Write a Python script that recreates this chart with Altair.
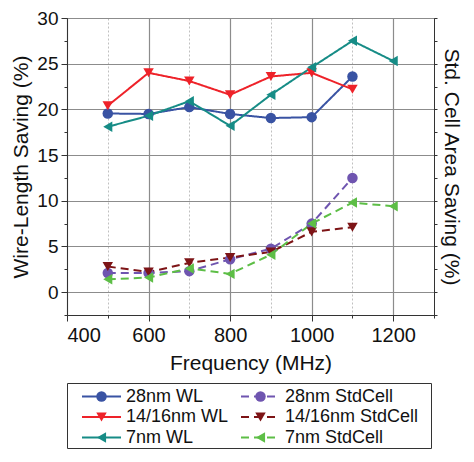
import altair as alt
import pandas as pd

# ---- data ----
freq = [500, 600, 700, 800, 900, 1000, 1100, 1200]
wl_28 = [19.55, 19.5, 20.25, 19.5, 19.05, 19.15, 23.6]
wl_16 = [20.4, 24.0, 23.1, 21.6, 23.6, 24.0, 22.2]
wl_7 = [18.1, 19.3, 20.9, 18.2, 21.6, 24.6, 27.5, 25.3]
sc_28 = [2.1, 2.1, 2.3, 3.6, 4.75, 7.5, 12.5]
sc_16 = [2.8, 2.2, 3.2, 3.8, 4.4, 6.6, 7.1]
sc_7 = [1.4, 1.6, 2.6, 2.0, 4.1, 7.5, 9.8, 9.4]

names = ["28nm WL", "14/16nm WL", "7nm WL",
         "28nm StdCell", "14/16nm StdCell", "7nm StdCell"]
colors = ["#3953A3", "#EE2229", "#168C86", "#6F55B0", "#7D1416", "#5DBE46"]
shapes = ["circle", "triangle-down", "triangle-left",
          "circle", "triangle-down", "triangle-left"]
x_ticks = list(range(400, 1301, 100))
y_ticks = [-2.5 + 2.5 * i for i in range(14)]

series = [wl_28, wl_16, wl_7, sc_28, sc_16, sc_7]
rows = []
for name, vals in zip(names, series):
    for f, v in zip(freq, vals):
        rows.append({"freq": f, "value": v, "series": name,
                     "kind": "StdCell" if "StdCell" in name else "WL"})
df = pd.DataFrame(rows)
df_wl = df[df.kind == "WL"]
df_sc = df[df.kind == "StdCell"]

FONT = "Liberation Sans"
color_scale = alt.Scale(domain=names, range=colors)
shape_scale = alt.Scale(domain=names, range=shapes)
dash_scale = alt.Scale(domain=["WL", "StdCell"], range=[[1, 0], [8, 5]])

x_enc = alt.X(
    "freq:Q",
    scale=alt.Scale(domain=[400, 1300], nice=False, zero=False),
    axis=alt.Axis(
        values=x_ticks,
        format="d",
        labelExpr="datum.value % 200 == 0 && datum.value <= 1200 ? datum.label : ''",
        title="Frequency (MHz)",
        labelFontSize=20,
        grid=True,
        gridDash={"condition": {"test": "datum.value % 200 == 0", "value": [1, 0]}, "value": [2, 2]},
        gridColor={"condition": {"test": "datum.value % 200 == 0", "value": "#8c8c8c"}, "value": "#b0b0b0"},
        gridWidth={"condition": {"test": "datum.value % 200 == 0", "value": 1.2}, "value": 0.8},
        tickSize={"condition": {"test": "datum.value % 200 == 0", "value": 6}, "value": 3},
        labelPadding=4,
        titlePadding=7,
    ),
)

y_scale = alt.Scale(domain=[-2.5, 30], nice=False, zero=False)
left_axis = alt.Axis(
    values=y_ticks,
    format=".0f",
    labelExpr="datum.value % 5 == 0 ? datum.label : ''",
    title="Wire-Length Saving (%)",
    labelFontSize=19,
    grid=True,
    gridColor="#8c8c8c",
    gridWidth=1.2,
    gridOpacity={"condition": {"test": "datum.value % 5 == 0", "value": 1}, "value": 0},
    tickSize={"condition": {"test": "datum.value % 5 == 0", "value": 6}, "value": 3},
    labelPadding=3,
    titlePadding=5,
)
right_axis = alt.Axis(
    orient="right",
    values=y_ticks,
    labels=False,
    grid=False,
    title="Std. Cell Area Saving (%)",
    tickSize=3,
    titlePadding=3,
)

def lines(data, axis):
    base = alt.Chart(data)
    ln = base.mark_line(strokeWidth=2).encode(
        x=x_enc,
        y=alt.Y("value:Q", scale=y_scale, axis=axis),
        color=alt.Color("series:N", scale=color_scale, legend=None),
        strokeDash=alt.StrokeDash("kind:N", scale=dash_scale, legend=None),
        detail="series:N",
    )
    pt = base.mark_point(filled=True, opacity=1, size=110).encode(
        x=x_enc,
        y=alt.Y("value:Q", scale=y_scale, axis=axis),
        color=alt.Color("series:N", scale=color_scale, legend=None),
        shape=alt.Shape("series:N", scale=shape_scale, legend=None),
    )
    return alt.layer(ln, pt)

main = alt.layer(lines(df_wl, left_axis), lines(df_sc, right_axis)).resolve_scale(
    y="independent"
).properties(width=367, height=297)

# ---- legend panel built from the series lists ----
LW, LH = 364, 65
leg_rows = []
for i, name in enumerate(names):
    col, row = i // 3, i % 3
    x0 = 15 + col * 159
    x1 = x0 + 39
    leg_rows.append({
        "series": name, "kind": "StdCell" if "StdCell" in name else "WL",
        "x0": x0, "x1": x1, "xm": (x0 + x1) / 2, "xt": x1 + 5,
        "y": 13.5 + row * 20.5,
    })
leg = pd.DataFrame(leg_rows)
lx = alt.Scale(domain=[0, LW])
ly = alt.Scale(domain=[0, LH], reverse=True)
lbase = alt.Chart(leg)
leg_line = lbase.mark_rule(strokeWidth=2).encode(
    x=alt.X("x0:Q", scale=lx, axis=None), x2="x1:Q",
    y=alt.Y("y:Q", scale=ly, axis=None),
    color=alt.Color("series:N", scale=color_scale, legend=None),
    strokeDash=alt.StrokeDash("kind:N", scale=dash_scale, legend=None),
)
leg_pt = lbase.mark_point(filled=True, opacity=1, size=110).encode(
    x=alt.X("xm:Q", scale=lx, axis=None),
    y=alt.Y("y:Q", scale=ly, axis=None),
    color=alt.Color("series:N", scale=color_scale, legend=None),
    shape=alt.Shape("series:N", scale=shape_scale, legend=None),
)
leg_txt = lbase.mark_text(align="left", baseline="middle", fontSize=18,
                          font=FONT, color="#111").encode(
    x=alt.X("xt:Q", scale=lx, axis=None),
    y=alt.Y("y:Q", scale=ly, axis=None),
    text="series:N",
)
legend = alt.layer(leg_line, leg_pt, leg_txt).properties(width=LW, height=LH)

chart = alt.vconcat(main, legend, spacing=8).properties(
    padding={"left": 2, "right": 4, "top": 0, "bottom": 0}
).configure(font=FONT).configure_view(
    stroke="#333", strokeWidth=1
).configure_axis(
    labelFont=FONT, titleFont=FONT, titleFontSize=21,
    labelColor="#111", titleColor="#111", titleFontWeight="normal",
    domainColor="#333", tickColor="#333", domainWidth=1,
)

chart.save("out.html", embed_options={"renderer": "svg", "actions": False})
